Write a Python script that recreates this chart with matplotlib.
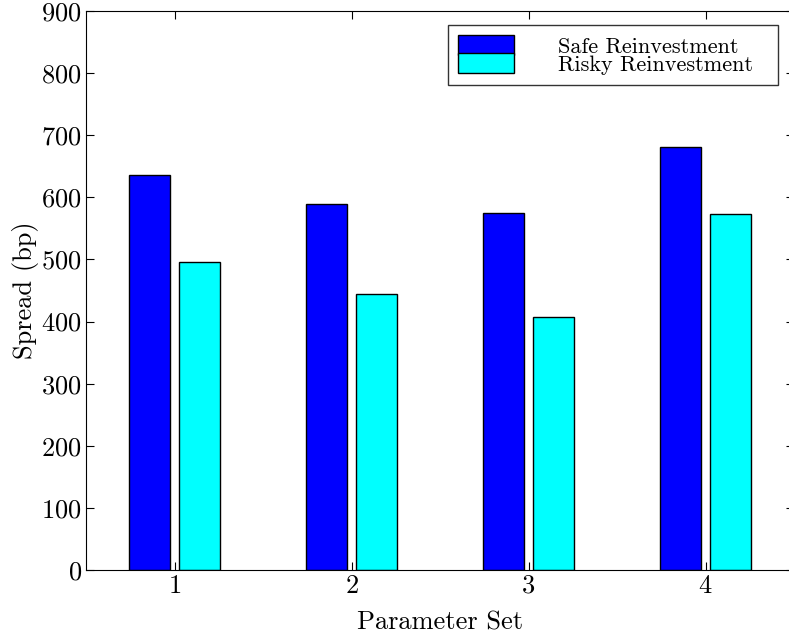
import numpy as np
import matplotlib
matplotlib.use("Agg")
import matplotlib.pyplot as plt

plt.rcParams['font.family'] = 'serif'
plt.rcParams['font.serif'] = ['cmr10']
plt.rcParams['mathtext.fontset'] = 'cm'
plt.rcParams['axes.formatter.use_mathtext'] = True

# data
param_sets = [1, 2, 3, 4]
safe = [636, 590, 575, 681]
risky = [496, 445, 408, 573]
labels = ['Safe Reinvestment', 'Risky Reinvestment']

fig = plt.figure(figsize=(7.89, 6.37), dpi=100)
# right edge of the axes lies just past the figure (the original is cropped)
ax = fig.add_axes([86 / 789, 1 - 570 / 637, 708 / 789, 559 / 637])

x = np.array(param_sets)
w = 0.23
ax.bar(x - 0.258, safe, width=w, align='edge', color='#0000ff',
       edgecolor='black', linewidth=1.0, label=labels[0])
ax.bar(x + 0.028, risky, width=w, align='edge', color='#00ffff',
       edgecolor='black', linewidth=1.0, label=labels[1] + '  ')

ax.set_xlim(0.5, 4.5)
ax.set_ylim(0, 900)
ax.set_xticks(param_sets)
ax.set_yticks(range(0, 901, 100))
ax.tick_params(direction='in', length=6, top=True, right=True,
               labelsize=19, pad=3)
ax.set_xlabel('Parameter Set', fontsize=19, labelpad=9)
ax.set_ylabel('Spread (bp)', fontsize=19, labelpad=2)

leg = ax.legend(loc='upper left', bbox_to_anchor=(448 / 789, 1 - 25 / 637),
                bbox_transform=fig.transFigure, borderaxespad=0,
                fontsize=16, fancybox=False,
                handlelength=2.5, handleheight=1.0, handletextpad=2.0,
                labelspacing=-0.15, borderpad=0.45)
leg.get_frame().set_edgecolor('black')
leg.get_frame().set_linewidth(1.0)

fig.savefig('out.png', dpi=100)
